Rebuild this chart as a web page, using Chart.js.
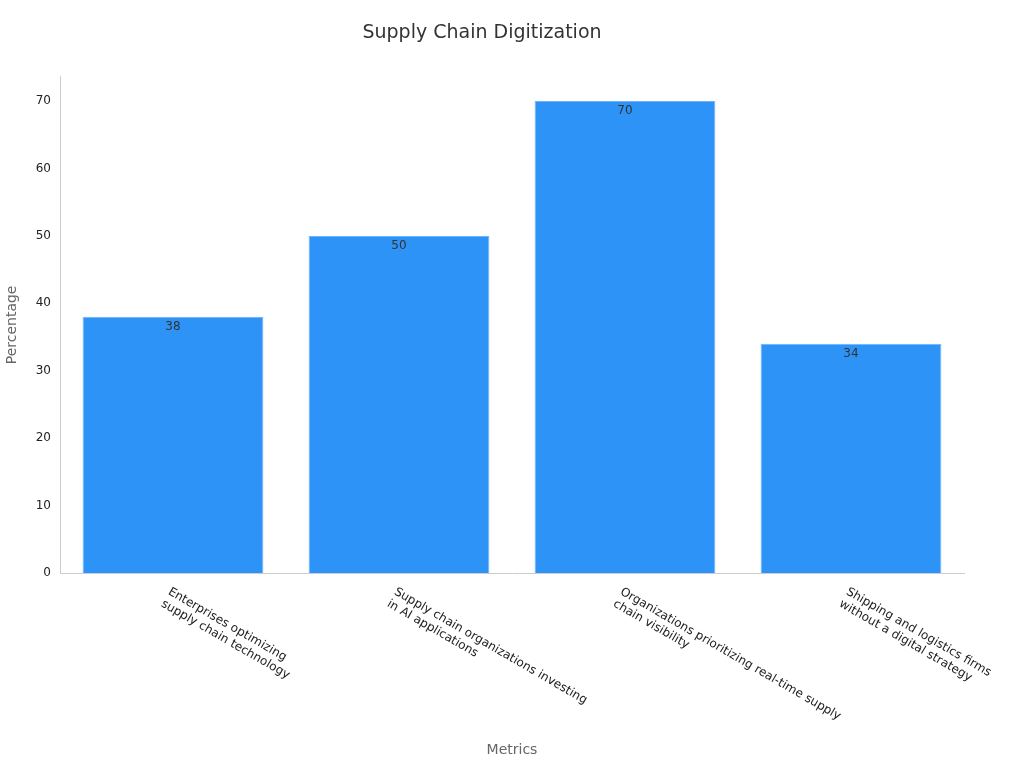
<!DOCTYPE html>
<html><head><meta charset="utf-8">
<script src="https://cdn.jsdelivr.net/npm/chart.js@4"></script>
<style>html,body{margin:0;background:#fff}#w{width:1024px;height:768px}</style>
</head><body><div id="w"><canvas id="c"></canvas></div>
<script>
const categories = [
  ["Enterprises optimizing","supply chain technology"],
  ["Supply chain organizations investing","in AI applications"],
  ["Organizations prioritizing real-time supply","chain visibility"],
  ["Shipping and logistics firms","without a digital strategy"]
];
const values = [38, 50, 70, 34];
const FONT = "'DejaVu Sans', sans-serif";

const overlay = {
  id: 'overlay',
  afterDatasetsDraw(chart) {
    const ctx = chart.ctx;
    const meta = chart.getDatasetMeta(0);
    ctx.save();
    ctx.font = "12px " + FONT;
    ctx.fillStyle = '#333';
    ctx.textAlign = 'center';
    ctx.textBaseline = 'top';
    meta.data.forEach((b, i) => ctx.fillText(String(values[i]), b.x, b.y + 4));
    const xs = chart.scales.x;
    ctx.fillStyle = '#222';
    ctx.textAlign = 'left';
    ctx.textBaseline = 'middle';
    categories.forEach((lines, i) => {
      const x = xs.getPixelForTick(i);
      const y = xs.top + 18;
      ctx.save();
      ctx.translate(x - 4, y);
      ctx.rotate(Math.PI / 6);
      lines.forEach((l, j) => ctx.fillText(l, 0, j * 14));
      ctx.restore();
    });
    ctx.restore();
  }
};

new Chart(document.getElementById('c'), {
  type: 'bar',
  data: { labels: categories.map(c => c.join(' ')), datasets: [{
    data: values, backgroundColor: '#2E93F7', borderColor: '#6DB5FA', borderWidth: 1,
    barPercentage: 0.8, categoryPercentage: 1
  }]},
  options: {
    responsive: true, maintainAspectRatio: false, animation: false,
    layout: { padding: { left: 0, right: 60, top: 10, bottom: 5 } },
    plugins: {
      legend: { display: false }, tooltip: { enabled: false },
      title: { display: true, text: 'Supply Chain Digitization', color: '#333',
        font: { family: FONT, size: 19, weight: 'normal' }, padding: { top: 12, bottom: 32 } }
    },
    scales: {
      x: {
        grid: { display: false, drawTicks: true, tickLength: 6 },
        border: { color: '#ccc' },
        ticks: { callback: () => '', maxRotation: 0, autoSkip: false },
        afterFit(s) { s.height = 190; },
        title: { display: true, text: 'Metrics', color: '#666', font: { family: FONT, size: 14 } }
      },
      y: {
        min: 0, max: 73.6,
        grid: { display: false, drawTicks: true, tickLength: 6 },
        border: { color: '#ccc' },
        afterBuildTicks(s) { s.ticks = [0,10,20,30,40,50,60,70].map(v => ({ value: v })); },
        afterFit(s) { s.width = 60; },
        ticks: { color: '#222', font: { family: FONT, size: 12 } },
        title: { display: true, text: 'Percentage', color: '#666', font: { family: FONT, size: 14 } }
      }
    }
  },
  plugins: [overlay]
});
</script></body></html>
